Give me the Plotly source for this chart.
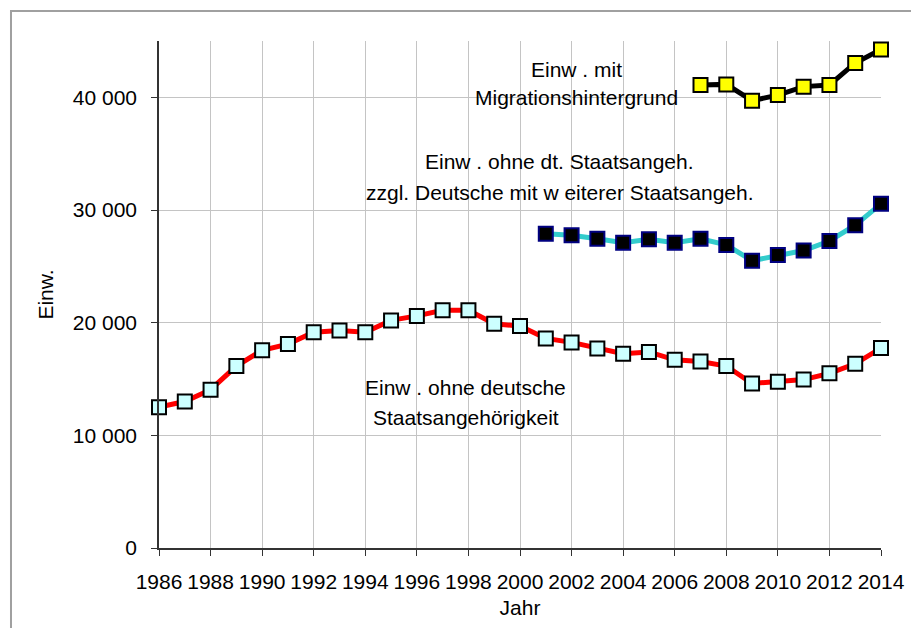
import plotly.graph_objects as go

# Einwohner ohne deutsche Staatsangehörigkeit (1986-2014)
jahre_a = list(range(1986, 2015))
ohne_dt = [12500, 13000, 14050, 16150, 17550, 18100, 19150, 19300, 19150, 20200,
           20600, 21100, 21100, 19900, 19700, 18600, 18250, 17700, 17250, 17400,
           16700, 16550, 16150, 14600, 14750, 14950, 15500, 16350, 17750]

# ohne dt. Staatsangeh. zzgl. Deutsche mit weiterer Staatsangeh. (2001-2014)
jahre_b = list(range(2001, 2015))
ohne_dt_zzgl = [27900, 27750, 27450, 27100, 27400, 27100, 27450, 26900, 25500, 26000,
                26400, 27250, 28650, 30550]

# mit Migrationshintergrund (2007-2014)
jahre_c = list(range(2007, 2015))
mit_migr = [41100, 41150, 39700, 40200, 40950, 41100, 43050, 44250]

FONT = "Liberation Sans, Arial, sans-serif"
FS = 21

fig = go.Figure()
fig.add_trace(go.Scatter(
    x=jahre_a, y=ohne_dt, mode="lines+markers",
    line=dict(color="#ff0000", width=5),
    marker=dict(symbol="square", size=14, color="#ccffff", line=dict(color="black", width=2)),
    cliponaxis=False, showlegend=False,
))
fig.add_trace(go.Scatter(
    x=jahre_b, y=ohne_dt_zzgl, mode="lines+markers",
    line=dict(color="#33cccc", width=5),
    marker=dict(symbol="square", size=14, color="black", line=dict(color="#000080", width=2)),
    cliponaxis=False, showlegend=False,
))
fig.add_trace(go.Scatter(
    x=jahre_c, y=mit_migr, mode="lines+markers",
    line=dict(color="black", width=5),
    marker=dict(symbol="square", size=14, color="#ffff00", line=dict(color="black", width=2)),
    cliponaxis=False, showlegend=False,
))

# label boxes (white, behind the data, covering the grid)
boxes = [(2000.3, 2008.5, 38900, 44550),
         (1993.8, 2009.1, 30100, 35700),
         (1993.6, 2002.0, 9650, 15700)]
for x0, x1, y0, y1 in boxes:
    fig.add_shape(type="rect", x0=x0, x1=x1, y0=y0, y1=y1, xref="x", yref="y",
                  fillcolor="white", line=dict(width=0), layer="below")

labels = [
    (2002.2, 42500, "Einw . mit"), (2002.2, 39950, "Migrationshintergrund"),
    (2001.55, 34300, "Einw . ohne dt. Staatsangeh."),
    (2001.55, 31550, "zzgl. Deutsche mit w eiterer Staatsangeh."),
    (1997.9, 14250, "Einw . ohne deutsche"), (1997.9, 11550, "Staatsangehörigkeit"),
]
for x, y, t in labels:
    fig.add_annotation(x=x, y=y, text=t, showarrow=False, xref="x", yref="y",
                       font=dict(family=FONT, size=FS, color="black"))

# outer frame
fig.add_shape(type="rect", xref="paper", yref="paper",
              x0=-0.205, x1=1.2, y0=-0.3, y1=1.059,
              line=dict(color="#a0a0a0", width=2), fillcolor="rgba(0,0,0,0)")

# page body has an 8px margin, so the figure is 8px smaller and shifted
fig.update_layout(
    width=911, height=620,
    margin=dict(l=151, r=38, t=33, b=80),
    paper_bgcolor="white", plot_bgcolor="white",
    separators=". ",
    font=dict(family=FONT, size=FS, color="black"),
    xaxis=dict(
        range=[1986, 2014], dtick=2, tick0=1986,
        showgrid=True, gridcolor="#c4c4c4", gridwidth=1.2,
        showline=True, linecolor="#333333", linewidth=1.5,
        ticks="outside", ticklen=6, tickcolor="#333333",
        ticklabelstandoff=8, tickfont=dict(size=FS),
        title=dict(text="Jahr", standoff=8, font=dict(size=FS)),
        zeroline=False,
    ),
    yaxis=dict(
        range=[0, 45000], dtick=10000, tickformat=",d",
        showgrid=True, gridcolor="#c4c4c4", gridwidth=1.2,
        showline=True, linecolor="#333333", linewidth=1.5,
        ticks="outside", ticklen=6, tickcolor="#333333",
        ticklabelstandoff=10, tickfont=dict(size=FS),
        title=dict(text="Einw.", standoff=13, font=dict(size=FS)),
        zeroline=False,
    ),
)

fig.write_html("out.html")
